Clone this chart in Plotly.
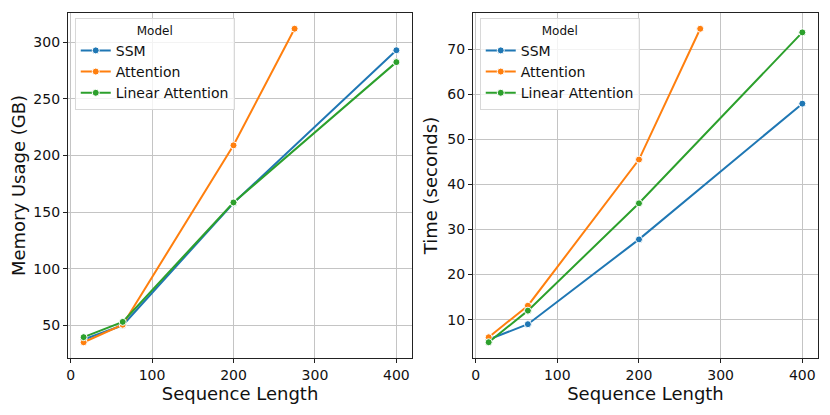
import plotly.graph_objects as go

models = ["SSM", "Attention", "Linear Attention"]
colors = ["#1f77b4", "#ff7f0e", "#2ca02c"]

seq_ssm = [16, 64, 200, 400]
seq_attn = [16, 64, 200, 275]
seq_lin = [16, 64, 200, 400]

mem_ssm = [37.5, 50, 158, 293]
mem_attn = [35, 50.5, 209, 312]
mem_lin = [39.5, 53, 158.5, 282.5]

time_ssm = [5.6, 9.0, 27.8, 57.9]
time_attn = [6.1, 13.1, 45.5, 74.5]
time_lin = [5.0, 12.0, 35.8, 73.7]

seqs = [seq_ssm, seq_attn, seq_lin]
mems = [mem_ssm, mem_attn, mem_lin]
times = [time_ssm, time_attn, time_lin]

FONT = "DejaVu Sans"
fig = go.Figure()

for i, m in enumerate(models):
    fig.add_trace(go.Scatter(
        x=seqs[i], y=mems[i], mode="lines+markers", name=m,
        line=dict(color=colors[i], width=2),
        marker=dict(color=colors[i], size=7, line=dict(color="white", width=1)),
        xaxis="x", yaxis="y", legend="legend"))
for i, m in enumerate(models):
    fig.add_trace(go.Scatter(
        x=seqs[i], y=times[i], mode="lines+markers", name=m,
        line=dict(color=colors[i], width=2),
        marker=dict(color=colors[i], size=7, line=dict(color="white", width=1)),
        xaxis="x2", yaxis="y2", legend="legend2"))

axis_common = dict(
    showgrid=True, gridcolor="#c4c4c4", gridwidth=1,
    showline=True, linecolor="#222222", linewidth=1.2, mirror=True,
    ticks="outside", ticklen=4, tickcolor="#222222",
    tickfont=dict(family=FONT, size=14, color="#111"),
    zeroline=False, automargin=False,
)
title_font = dict(family=FONT, size=18, color="#111")

legend_common = dict(
    bgcolor="rgba(255,255,255,0.8)", bordercolor="#d8d8d8", borderwidth=1,
    font=dict(family=FONT, size=14, color="#111"),
    title=dict(text="Model", side="top center", font=dict(family=FONT, size=12, color="#111")),
    xanchor="left", yanchor="top", tracegroupgap=0, itemwidth=30,
)

# page body has an 8px margin; plot area in page: x 68..818, y 13..358
fig.update_layout(
    width=822, height=407,
    margin=dict(l=60, r=12, t=5, b=57, autoexpand=False),
    paper_bgcolor="white", plot_bgcolor="white",
    font=dict(family=FONT),
    xaxis=dict(axis_common, domain=[0.0, 0.4587], range=[-3.2, 419.2],
               tickvals=[0, 100, 200, 300, 400],
               title=dict(text="Sequence Length", font=title_font, standoff=3)),
    yaxis=dict(axis_common, domain=[0, 1], range=[21.1, 325.9],
               tickvals=[50, 100, 150, 200, 250, 300], anchor="x",
               title=dict(text="Memory Usage (GB)", font=title_font, standoff=8)),
    xaxis2=dict(axis_common, domain=[0.54, 1.0], range=[-3.2, 419.2], anchor="y2",
                tickvals=[0, 100, 200, 300, 400],
                title=dict(text="Sequence Length", font=title_font, standoff=3)),
    yaxis2=dict(axis_common, domain=[0, 1], range=[1.5, 78.0], anchor="x2",
                tickvals=[10, 20, 30, 40, 50, 60, 70],
                title=dict(text="Time (seconds)", font=title_font, standoff=4)),
    legend=dict(legend_common, x=0.009, y=0.985),
    legend2=dict(legend_common, x=0.549, y=0.985),
    showlegend=True,
)

fig.write_html("out.html")
